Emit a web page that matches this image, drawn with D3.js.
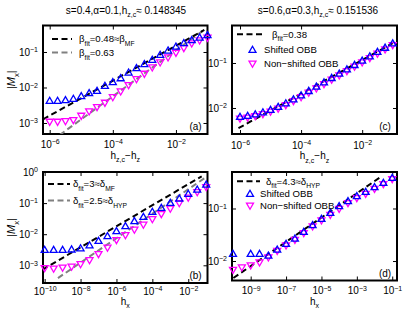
<!DOCTYPE html>
<html><head><meta charset="utf-8">
<script src="https://cdn.jsdelivr.net/npm/d3@7"></script>
<style>
body{margin:0;background:#fff}
svg{display:block}
text{font-family:"Liberation Sans",Arial,Helvetica,sans-serif;fill:#000}
</style>
</head><body>
<svg id="chart" width="415" height="312"></svg>
<script>
// ---------------- data ----------------
// panel (a): s=0.4, alpha=0.1
const hA = [1e-6,1.778e-6,3.162e-6,5.623e-6,1e-5,1.778e-5,3.162e-5,5.623e-5,1e-4,1.778e-4,3.162e-4,5.623e-4,1e-3,1.778e-3,3.162e-3,5.623e-3,1e-2,1.778e-2,3.162e-2,5.623e-2,1e-1];
const shiftedA = [0.00417,0.00417,0.00436,0.00474,0.00564,0.00685,0.00796,0.01102,0.01400,0.01811,0.02618,0.03467,0.04498,0.05957,0.08222,0.1091,0.1413,0.1754,0.2133,0.2535,0.2951];
const nonShiftedA = [0.001092,0.001092,0.001138,0.001216,0.001611,0.002133,0.002825,0.003741,0.005395,0.007798,0.01175,0.01734,0.02455,0.03698,0.05117,0.07079,0.09572,0.1297,0.1754,0.2133,0.2535];
const fitA1x = [6.14e-7,0.0794], fitA1y = [1.268e-3,0.417];   // beta_fit=0.48
const fitA2x = [2.07e-6,0.0832], fitA2y = [4.59e-4,0.4365];   // beta_fit=0.63

// panel (c): s=0.6, alpha=0.3
const hC = [1e-6,1.778e-6,3.162e-6,5.623e-6,1e-5,1.778e-5,3.162e-5,5.623e-5,1e-4,1.778e-4,3.162e-4,5.623e-4,1e-3,1.778e-3,3.162e-3,5.623e-3,1e-2,1.778e-2,3.162e-2,5.623e-2,1e-1];
const shiftedC = [0.00632,0.00664,0.00716,0.00794,0.00902,0.0105,0.0126,0.0155,0.0189,0.0237,0.0296,0.0368,0.0461,0.0575,0.0716,0.0897,0.112,0.139,0.175,0.217,0.271];
const nonShiftedC = [0.00585,0.00615,0.00664,0.00736,0.00836,0.00975,0.01167,0.01432,0.01754,0.02198,0.02742,0.03412,0.04276,0.05333,0.06637,0.08318,0.1038,0.1291,0.1618,0.2014,0.2512];
const fitCx = [8.9e-7,0.1], fitCy = [3.55e-3,0.275];          // beta_fit=0.38

// panel (b): s=0.4, alpha=0.1, field h_x
const hxB = [1e-10,3.162e-10,1e-9,3.162e-9,1e-8,3.162e-8,1e-7,3.162e-7,1e-6,3.162e-6,1e-5,3.162e-5,1e-4,3.162e-4,1e-3,3.162e-3,1e-2,3.162e-2,1e-1];
const shiftedB = [0.0031,0.0031,0.0031,0.0032,0.00347,0.00434,0.00604,0.00855,0.01239,0.01795,0.0260,0.0357,0.0518,0.0695,0.1007,0.1384,0.1963,0.270,0.391];
const nonShiftedB = [0.000818,0.000788,0.000849,0.000914,0.00110,0.00148,0.00231,0.00373,0.00652,0.00942,0.01416,0.0205,0.0308,0.0447,0.0670,0.1007,0.1514,0.2275,0.330];
const fitB1x = [7.59e-11,0.0562], fitB1y = [7.24e-4,0.728];   // delta_fit=3
const fitB2x = [5.5e-10,0.0832], fitB2y = [3.89e-4,0.641];    // delta_fit=2.5

// panel (d): s=0.6, alpha=0.3, field h_x
const hxD = [1e-10,3.162e-10,1e-9,3.162e-9,1e-8,3.162e-8,1e-7,3.162e-7,1e-6,3.162e-6,1e-5,3.162e-5,1e-4,3.162e-4,1e-3,3.162e-3,1e-2,3.162e-2,1e-1];
const shiftedD = [0.01358,null,0.01358,0.01358,0.01262,0.01641,0.02109,0.02661,0.03565,0.04786,0.0631,0.0820,0.1102,0.1371,0.1706,0.2061,0.2535,0.3062,0.381];
const nonShiftedD = [0.00682,0.00759,0.00828,0.00944,0.01175,0.01570,0.01991,0.02547,0.03412,0.04581,0.05957,0.0762,0.0991,0.1274,0.1585,0.1914,0.2382,0.2931,0.3648];
const fitDx = [1.05e-10,0.0251], fitDy = [4.74e-3,0.410];     // delta_fit=4.3

// tick values
const xTicksTop = [1e-6,1e-4,1e-2];
const yTicksA = [1e-3,1e-2,1e-1];
const yTicksC = [1e-2,1e-1];
const xTicksB = [1e-10,1e-8,1e-6,1e-4,1e-2];
const yTicksB = [1e-3,1e-2,1e-1,1];
const xTicksD = [1e-9,1e-7,1e-5,1e-3,1e-1];
const yTicksD = [1e-2,1e-1];

// ---------------- drawing ----------------
const svg = d3.select('#chart');
const BLUE = '#0000ff', MAG = '#ff00ff', GRAY = '#808080';
const upTri = 'M0,-3.7L3.5,2.4L-3.5,2.4Z';
const dnTri = 'M0,3.7L3.5,-2.4L-3.5,-2.4Z';

function rich(t, parts, size) {
  let shift = 0;
  parts.forEach(([s, k]) => {
    const target = k === 'sub' ? size * 0.38 : (k === 'sup' ? -size * 0.42 : 0);
    const ts = t.append('tspan').text(s)
      .attr('font-size', k === 'n' ? size : size * 0.7);
    if (target - shift !== 0) ts.attr('dy', target - shift);
    if (k === 'it') ts.attr('font-style', 'italic').attr('font-size', size);
    shift = target;
  });
  return t;
}
function supLabel(sel) {
  sel.each(function(v) {
    const e = Math.round(Math.log10(v));
    const t = d3.select(this).text(null);
    t.append('tspan').text('10');
    t.append('tspan').text(e < 0 ? '\u2212' + (-e) : String(e))
      .attr('dy', '-0.5em').attr('font-size', '7px');
  });
}

let clipId = 0;
function panel(c) {
  const g = svg.append('g');
  const x = d3.scaleLog().domain(c.xDom).range([c.x0, c.x1]);
  const y = d3.scaleLog().domain(c.yDom).range([c.y1, c.y0]);
  const id = 'clip' + (clipId++);
  g.append('clipPath').attr('id', id).append('rect')
    .attr('x', c.x0).attr('y', c.y0).attr('width', c.x1 - c.x0).attr('height', c.y1 - c.y0);

  // frame
  g.append('rect').attr('x', c.x0).attr('y', c.y0).attr('width', c.x1 - c.x0).attr('height', c.y1 - c.y0)
    .attr('fill', 'none').attr('stroke', '#000').attr('stroke-width', 2);

  // axes
  const bottom = g.append('g').attr('transform', `translate(0,${c.y1})`)
    .call(d3.axisBottom(x).tickValues(c.xTicks).tickSize(-4).tickPadding(c.xPad));
  const top = g.append('g').attr('transform', `translate(0,${c.y0})`)
    .call(d3.axisTop(x).tickValues(c.xTicks).tickSize(-4).tickFormat(''));
  const left = g.append('g').attr('transform', `translate(${c.x0},0)`)
    .call(d3.axisLeft(y).tickValues(c.yTicks).tickSize(-4).tickPadding(5));
  const right = g.append('g').attr('transform', `translate(${c.x1},0)`)
    .call(d3.axisRight(y).tickValues(c.yTicks).tickSize(-4).tickFormat(''));
  [bottom, top, left, right].forEach(a => {
    a.select('.domain').remove();
    a.selectAll('.tick line').attr('stroke', '#000').attr('stroke-width', 1);
    a.selectAll('text').attr('font-size', 10).attr('font-family', '"Liberation Sans",Arial,sans-serif').attr('fill', '#000');
  });
  bottom.selectAll('.tick text').call(supLabel);
  left.selectAll('.tick text').call(supLabel);

  // fit lines
  const line = d3.line().x(d => x(d[0])).y(d => y(d[1]));
  c.fits.forEach(f => {
    g.append('path').attr('clip-path', `url(#${id})`)
      .attr('d', line(d3.zip(f.x, f.y)))
      .attr('fill', 'none').attr('stroke', f.color).attr('stroke-width', 2)
      .attr('stroke-dasharray', '6,3.5');
  });

  // markers
  const drawSeries = (xs, ys, shape, color) => {
    g.append('g').selectAll('path').data(d3.zip(xs, ys).filter(d => d[1] != null)).join('path')
      .attr('transform', d => `translate(${x(d[0])},${y(d[1])})`)
      .attr('d', shape).attr('fill', 'none').attr('stroke', color).attr('stroke-width', 1.3);
  };
  drawSeries(c.xs, c.nonShifted, dnTri, MAG);
  drawSeries(c.xs, c.shifted, upTri, BLUE);

  // legend
  c.legend.forEach(L => {
    if (L.type === 'line') {
      g.append('line').attr('x1', L.lx0).attr('x2', L.lx1).attr('y1', L.ly).attr('y2', L.ly)
        .attr('stroke', L.color).attr('stroke-width', 2).attr('stroke-dasharray', '6,3.5');
    } else {
      g.append('path').attr('transform', `translate(${L.mx},${L.ly})`).attr('d', L.shape)
        .attr('fill', 'none').attr('stroke', L.color).attr('stroke-width', 1.3);
    }
    rich(g.append('text').attr('x', L.tx).attr('y', L.ly + 3.4), L.parts, 9.6);
  });

  // panel letter
  g.append('text').attr('x', c.x1 - 12).attr('y', c.y1 - 4).attr('text-anchor', 'middle')
    .attr('font-size', 10).text(c.letter);

  // x label
  rich(g.append('text').attr('x', (c.x0 + c.x1) / 2).attr('y', c.xLabY).attr('text-anchor', 'middle'), c.xLabel, 10);
  // y label
  if (c.yLabel) {
    rich(g.append('text').attr('transform', `translate(14.5,${(c.y0 + c.y1) / 2}) rotate(-90)`)
      .attr('text-anchor', 'middle'), [['|', 'n'], ['M', 'it'], ['x', 'sub'], ['|', 'n']], 11);
  }
  // title
  if (c.title) {
    rich(g.append('text').attr('x', c.titleX).attr('y', 13.5).attr('text-anchor', 'middle'), c.title, 10);
  }
}

const lg = d => Math.pow(10, d);
const hzLabel = [['h', 'n'], ['z,c', 'sub'], ['\u2212h', 'n'], ['z', 'sub']];
const hxLabel = [['h', 'n'], ['x', 'sub']];

panel({
  x0: 43, x1: 207.5, y0: 25.5, y1: 134,
  xDom: [lg(-6.212), lg(-1.0)], yDom: [lg(-3.310), lg(-0.254)],
  xTicks: xTicksTop, yTicks: yTicksA, xPad: 6.8,
  xs: hA, shifted: shiftedA, nonShifted: nonShiftedA,
  fits: [{x: fitA2x, y: fitA2y, color: GRAY}, {x: fitA1x, y: fitA1y, color: '#000'}],
  legend: [
    {type: 'line', color: '#000', lx0: 52, lx1: 72, ly: 39, tx: 79,
     parts: [['\u03b2', 'n'], ['fit', 'sub'], ['=0.48\u2248\u03b2', 'n'], ['MF', 'sub']]},
    {type: 'line', color: GRAY, lx0: 52, lx1: 72, ly: 52.5, tx: 79,
     parts: [['\u03b2', 'n'], ['fit', 'sub'], ['=0.63', 'n']]}
  ],
  letter: '(a)', xLabel: hzLabel, xLabY: 158.5, yLabel: true,
  title: [['s=0.4,\u03b1=0.1,h', 'n'], ['z,c', 'sub'], ['\u2248 0.148345', 'n']], titleX: 126
});

panel({
  x0: 232, x1: 397, y0: 25.5, y1: 134,
  xDom: [lg(-6.262), lg(-0.86)], yDom: [lg(-2.578), lg(-0.167)],
  xTicks: xTicksTop, yTicks: yTicksC, xPad: 7.6,
  xs: hC, shifted: shiftedC, nonShifted: nonShiftedC,
  fits: [{x: fitCx, y: fitCy, color: '#000'}],
  legend: [
    {type: 'line', color: '#000', lx0: 237, lx1: 262, ly: 34.3, tx: 272,
     parts: [['\u03b2', 'n'], ['fit', 'sub'], ['=0.38', 'n']]},
    {type: 'marker', color: BLUE, shape: upTri, mx: 252.5, ly: 50, tx: 264,
     parts: [['Shifted OBB', 'n']]},
    {type: 'marker', color: MAG, shape: dnTri, mx: 252.5, ly: 63.5, tx: 264,
     parts: [['Non\u2212shifted OBB', 'n']]}
  ],
  letter: '(c)', xLabel: hzLabel, xLabY: 159, yLabel: false,
  title: [['s=0.6,\u03b1=0.3,h', 'n'], ['z,c', 'sub'], ['\u2248 0.151536', 'n']], titleX: 318
});

panel({
  x0: 43, x1: 207.5, y0: 172, y1: 283,
  xDom: [lg(-10.092), lg(-0.928)], yDom: [lg(-3.569), lg(0)],
  xTicks: xTicksB, yTicks: yTicksB, xPad: 4.6,
  xs: hxB, shifted: shiftedB, nonShifted: nonShiftedB,
  fits: [{x: fitB2x, y: fitB2y, color: GRAY}, {x: fitB1x, y: fitB1y, color: '#000'}],
  legend: [
    {type: 'line', color: '#000', lx0: 48, lx1: 70, ly: 184, tx: 73,
     parts: [['\u03b4', 'n'], ['fit', 'sub'], ['=3\u2248\u03b4', 'n'], ['MF', 'sub']]},
    {type: 'line', color: GRAY, lx0: 48, lx1: 70, ly: 200.5, tx: 73,
     parts: [['\u03b4', 'n'], ['fit', 'sub'], ['=2.5\u2248\u03b4', 'n'], ['HYP', 'sub']]}
  ],
  letter: '(b)', xLabel: hxLabel, xLabY: 304.5, yLabel: true
});

panel({
  x0: 232, x1: 397, y0: 172, y1: 280.5,
  xDom: [lg(-10.056), lg(-0.73)], yDom: [lg(-2.371), lg(-0.305)],
  xTicks: xTicksD, yTicks: yTicksD, xPad: 6.6,
  xs: hxD, shifted: shiftedD, nonShifted: nonShiftedD,
  fits: [{x: fitDx, y: fitDy, color: '#000'}],
  legend: [
    {type: 'line', color: '#000', lx0: 237, lx1: 260, ly: 181.3, tx: 266,
     parts: [['\u03b4', 'n'], ['fit', 'sub'], ['=4.3\u2248\u03b4', 'n'], ['HYP', 'sub']]},
    {type: 'marker', color: BLUE, shape: upTri, mx: 250, ly: 194, tx: 260,
     parts: [['Shifted OBB', 'n']]},
    {type: 'marker', color: MAG, shape: dnTri, mx: 250, ly: 205.5, tx: 260,
     parts: [['Non\u2212shifted OBB', 'n']]}
  ],
  letter: '(d)', xLabel: hxLabel, xLabY: 304.5, yLabel: false
});
</script>
</body></html>
